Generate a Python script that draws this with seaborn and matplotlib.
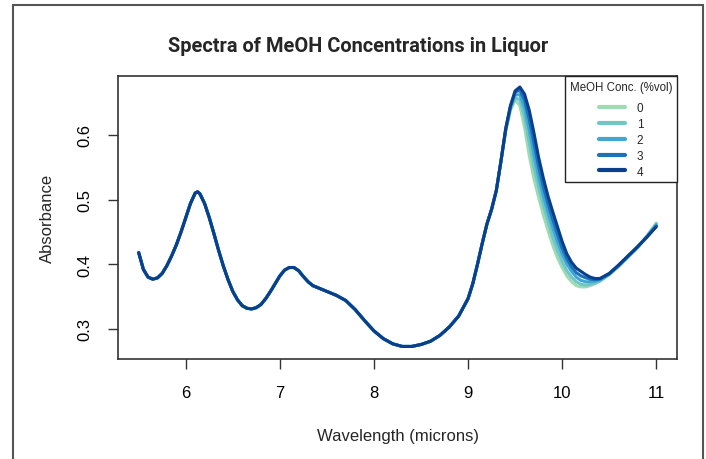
import matplotlib
matplotlib.use('Agg')
import matplotlib.pyplot as plt
import seaborn as sns
import pandas as pd
from matplotlib.lines import Line2D
from matplotlib.patches import Rectangle

# shared part of the spectra (all concentrations overlap here)
wl_left = [5.50, 5.55, 5.60, 5.65, 5.70, 5.75, 5.80, 5.85, 5.90, 5.95,
           6.00, 6.05, 6.10, 6.125, 6.15, 6.20, 6.25, 6.30, 6.35, 6.40,
           6.45, 6.50, 6.55, 6.60, 6.65, 6.70, 6.75, 6.80, 6.85, 6.90,
           6.95, 7.00, 7.05, 7.10, 7.15, 7.20, 7.25, 7.30, 7.35, 7.40,
           7.50, 7.60, 7.70, 7.80, 7.90, 8.00, 8.10, 8.20, 8.30, 8.40,
           8.50, 8.60, 8.70, 8.80, 8.90, 9.00, 9.05, 9.10, 9.15, 9.20,
           9.25, 9.30]
abs_left = [0.418, 0.392, 0.380, 0.377, 0.379, 0.386, 0.398, 0.413, 0.430, 0.450,
            0.472, 0.494, 0.510, 0.512, 0.509, 0.494, 0.472, 0.447, 0.421, 0.397,
            0.376, 0.358, 0.345, 0.336, 0.332, 0.331, 0.333, 0.338, 0.347, 0.358,
            0.370, 0.382, 0.391, 0.395, 0.395, 0.390, 0.381, 0.373, 0.367, 0.364,
            0.358, 0.352, 0.344, 0.330, 0.313, 0.297, 0.285, 0.277, 0.273, 0.273,
            0.276, 0.281, 0.290, 0.303, 0.320, 0.347, 0.370, 0.400, 0.432, 0.462,
            0.485, 0.514]

# methanol band, where the concentrations separate
wl_tail = [9.35, 9.40, 9.45, 9.50, 9.55, 9.60, 9.65, 9.70, 9.75, 9.80,
           9.85, 9.90, 9.95, 10.00, 10.05, 10.10, 10.15, 10.20, 10.25, 10.30,
           10.35, 10.40, 10.50, 10.60, 10.70, 10.80, 10.90, 11.00]
tail_0 = [0.560, 0.606, 0.638, 0.654, 0.645, 0.612, 0.568, 0.532, 0.503, 0.476,
          0.452, 0.429, 0.410, 0.395, 0.382, 0.373, 0.367, 0.365, 0.365, 0.367,
          0.370, 0.374, 0.384, 0.397, 0.411, 0.426, 0.444, 0.464]
tail_1 = [0.560, 0.607, 0.640, 0.658, 0.654, 0.628, 0.588, 0.550, 0.519, 0.491,
          0.466, 0.442, 0.421, 0.404, 0.390, 0.380, 0.373, 0.369, 0.368, 0.369,
          0.371, 0.374, 0.384, 0.397, 0.411, 0.426, 0.443, 0.462]
tail_2 = [0.560, 0.608, 0.642, 0.662, 0.662, 0.642, 0.607, 0.569, 0.535, 0.505,
          0.480, 0.456, 0.434, 0.415, 0.400, 0.389, 0.380, 0.375, 0.373, 0.373,
          0.374, 0.376, 0.385, 0.398, 0.412, 0.426, 0.443, 0.461]
tail_3 = [0.560, 0.609, 0.644, 0.666, 0.669, 0.654, 0.624, 0.587, 0.551, 0.519,
          0.493, 0.469, 0.446, 0.425, 0.408, 0.396, 0.387, 0.382, 0.379, 0.377,
          0.376, 0.377, 0.385, 0.398, 0.413, 0.427, 0.442, 0.459]
tail_4 = [0.560, 0.610, 0.645, 0.668, 0.674, 0.663, 0.638, 0.603, 0.565, 0.533,
          0.505, 0.481, 0.458, 0.435, 0.416, 0.403, 0.394, 0.389, 0.384, 0.380,
          0.378, 0.378, 0.386, 0.399, 0.413, 0.427, 0.442, 0.458]

concs = ['0', '1', '2', '3', '4']
colors = ['#9ddbb2', '#6ec6c6', '#41a6d6', '#1a72b8', '#0b3f8c']

rows = []
for c, tail in zip(concs, [tail_0, tail_1, tail_2, tail_3, tail_4]):
    for w, a in zip(wl_left + wl_tail, abs_left + tail):
        rows.append((c, w, a))
df = pd.DataFrame(rows, columns=['conc', 'wl', 'absorb'])

sns.set_style('white')
plt.rcParams['font.family'] = ['Liberation Sans', 'DejaVu Sans']

fig = plt.figure(figsize=(7.06, 4.6), dpi=100)
ax = fig.add_axes([118/706, 1 - 360/460, 559/706, 283/460])

sns.lineplot(data=df, x='wl', y='absorb', hue='conc', hue_order=concs,
             palette=dict(zip(concs, colors)), estimator=None, sort=False,
             lw=2.2, legend=False, ax=ax)

ax.set_xlim(5.28, 11.22)
ax.set_ylim(0.2536, 0.691)
ax.set_xticks([6, 7, 8, 9, 10, 11])
ax.set_yticks([0.3, 0.4, 0.5, 0.6])
ax.tick_params(direction='out', length=7.2, width=1, colors='#333',
               labelcolor='black', labelsize=12, pad=11.5, bottom=True, left=True)
ax.tick_params(axis='y', labelrotation=90)
for t in ax.get_yticklabels():
    t.set_va('center')
for s in ax.spines.values():
    s.set_visible(True)
    s.set_color('#333')
    s.set_linewidth(1.2)

ax.set_xlabel('Wavelength (microns)', fontsize=12)
ax.set_ylabel('Absorbance', fontsize=12)
ax.xaxis.set_label_coords(0.5, -0.244)
ax.yaxis.set_label_coords(-0.113, 0.5)

handles = [Line2D([], [], color=c, lw=3) for c in colors]
leg = ax.legend(handles, concs, title='MeOH Conc. (%vol)', loc='upper right',
                bbox_to_anchor=(1, 1), borderaxespad=0, frameon=True,
                fancybox=False, framealpha=1, edgecolor='#222',
                fontsize=8.5, title_fontsize=8.3, handlelength=2.2,
                handletextpad=1.0, labelspacing=0.32, borderpad=0.4)
leg.get_frame().set_linewidth(1)
leg._legend_box.sep = 7

fig.text(358/706, 1 - 47/460, 'Spectra of MeOH Concentrations in Liquor',
         ha='center', va='center', fontsize=14.4, fontweight='bold',
         family=['Roboto', 'DejaVu Sans'])

fig.add_artist(Rectangle((13/706, -0.05), 690/706, 1 - 6/460 + 0.05,
                         transform=fig.transFigure, fill=False,
                         ec='#555', lw=1.5))

fig.savefig('out.png', dpi=100)
